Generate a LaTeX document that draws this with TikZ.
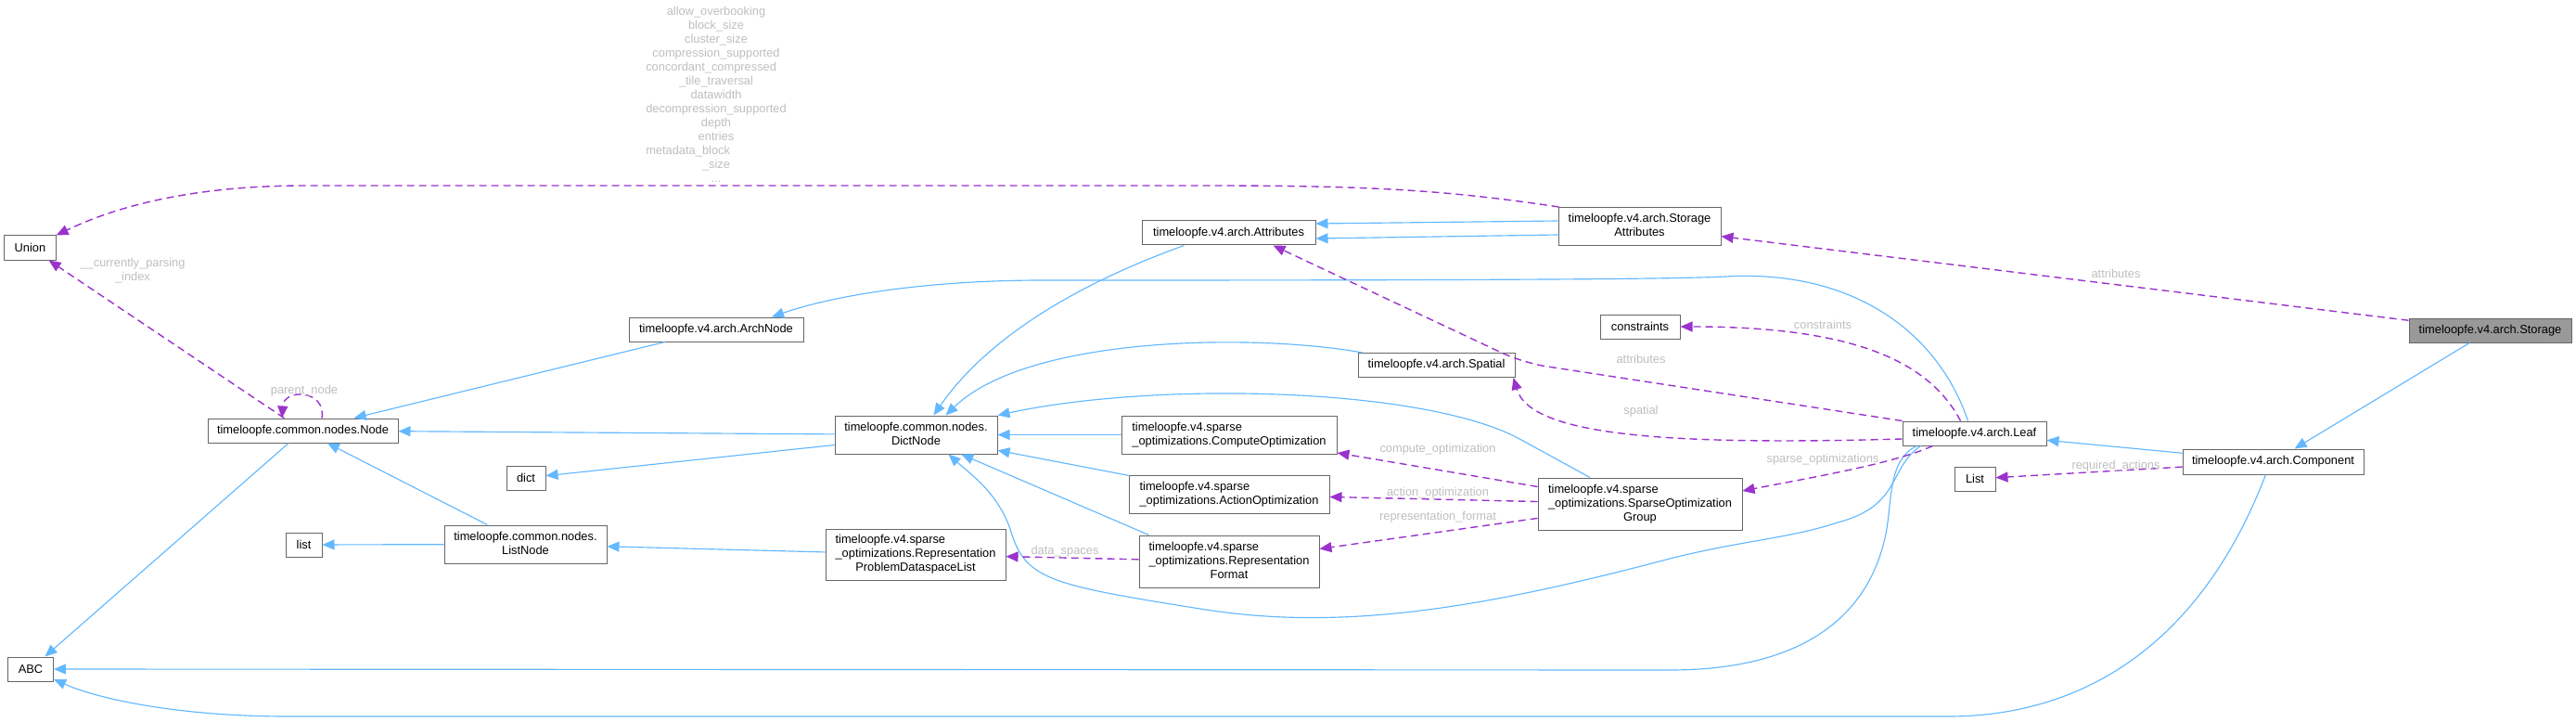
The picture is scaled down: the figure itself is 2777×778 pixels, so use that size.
\documentclass[tikz,border=0pt]{standalone}
\usepackage{fontspec}
\setmainfont{Liberation Sans}
\usetikzlibrary{arrows.meta}
\definecolor{inhblue}{HTML}{63B8FF}
\definecolor{deppurple}{HTML}{9A32CD}
\definecolor{boxgray}{HTML}{666666}
\definecolor{lblgray}{HTML}{BEBEBE}
\definecolor{selgray}{HTML}{999999}
\newcommand\mixl[2]{\begin{tabular}{@{}l@{}}#1\\\multicolumn{1}{@{}c@{}}{#2}\end{tabular}}
\newcommand\cenl[1]{\begin{tabular}{@{}c@{}}#1\end{tabular}}
\begin{document}
\begin{tikzpicture}[x=1pt,y=-1pt,font=\fontsize{12.85}{15}\selectfont,
  box/.style={draw=boxgray,line width=1pt,fill=white,inner sep=0pt},
  inh/.style={draw=inhblue,line width=1.15pt,-{Triangle[length=13pt,width=11pt]}},
  dep/.style={draw=deppurple,line width=1.4pt,dash pattern=on 8pt off 5pt,-{Triangle[length=13pt,width=11pt]}},
  lbl/.style={text=lblgray,inner sep=0pt}]
\useasboundingbox (0,0) rectangle (2777,778);

% nodes
\node[box,minimum width=56pt,minimum height=26pt] (union) at (32.5,267) {Union};
\node[box,minimum width=49pt,minimum height=26pt] (abc) at (33,721) {ABC};
\node[box,minimum width=205pt,minimum height=26pt] (cnode) at (326.5,464) {timeloopfe.common.nodes.Node};
\node[box,minimum width=188pt,minimum height=26pt] (archnode) at (772,355) {timeloopfe.v4.arch.ArchNode};
\node[box,minimum width=42pt,minimum height=26pt] (dict) at (567,515) {dict};
\node[box,minimum width=39pt,minimum height=26pt] (plist) at (327.5,587) {list};
\node[box,minimum width=175pt,minimum height=41pt] (listnode) at (566.5,586.5) {\mixl{timeloopfe.common.nodes.}{ListNode}};
\node[box,minimum width=175pt,minimum height=41pt] (dictnode) at (987.5,468.5) {\mixl{timeloopfe.common.nodes.}{DictNode}};
\node[box,minimum width=194pt,minimum height=55pt] (rpdl) at (987,597.5) {\mixl{timeloopfe.v4.sparse\\\_optimizations.Representation}{ProblemDataspaceList}};
\node[box,minimum width=187pt,minimum height=26pt] (attributes) at (1324.5,251) {timeloopfe.v4.arch.Attributes};
\node[box,minimum width=232pt,minimum height=41pt] (compopt) at (1325,468.5) {\mixl{timeloopfe.v4.sparse}{\_optimizations.ComputeOptimization}};
\node[box,minimum width=216pt,minimum height=41pt] (actopt) at (1325,533) {\mixl{timeloopfe.v4.sparse}{\_optimizations.ActionOptimization}};
\node[box,minimum width=194pt,minimum height=56pt] (repfmt) at (1325,605) {\mixl{timeloopfe.v4.sparse\\\_optimizations.Representation}{Format}};
\node[box,minimum width=169pt,minimum height=26pt] (spatial) at (1548.5,393.5) {timeloopfe.v4.arch.Spatial};
\node[box,minimum width=175pt,minimum height=41pt] (storattr) at (1767.5,244) {\cenl{timeloopfe.v4.arch.Storage\\Attributes}};
\node[box,minimum width=86pt,minimum height=26pt] (constraints) at (1768,352) {constraints};
\node[box,minimum width=220pt,minimum height=56pt] (sog) at (1768,543) {\mixl{timeloopfe.v4.sparse\\\_optimizations.SparseOptimization}{Group}};
\node[box,minimum width=155pt,minimum height=26pt] (leaf) at (2128.5,467) {timeloopfe.v4.arch.Leaf};
\node[box,minimum width=44pt,minimum height=26pt] (plist2) at (2129,516) {List};
\node[box,minimum width=195pt,minimum height=27pt] (component) at (2450.5,497.5) {timeloopfe.v4.arch.Component};
\node[box,fill=selgray,minimum width=175pt,minimum height=26pt] (storage) at (2684.5,356) {timeloopfe.v4.arch.Storage};

% edges
\draw[inh] (storage) -- (component);
\draw[dep] (storage) -- (storattr);
\draw[inh] (component) -- (leaf);
\draw[dep] (component) -- (plist2);
\draw[inh] ([xshift=-8pt]component.south) .. controls (2370,700) and (2240,772) .. (2100,772) -- (310,772) .. controls (200,772) and (110,755) .. (abc);
\draw[inh] ([xshift=-62pt]leaf.south) .. controls (2035,495) and (2040,540) .. (2033,575) .. controls (2016,659) and (1950,722) .. (1800,722) -- (abc);
\draw[inh] ([xshift=-58pt]leaf.south) .. controls (2035,505) and (2050,545) .. (1981,563) .. controls (1930,580) and (1880,582) .. (1800,602) .. controls (1600,655) and (1450,680) .. (1300,657) .. controls (1130,630) and (1105,625) .. (1089,570) .. controls (1075,530) and (1045,510) .. ([xshift=35pt]dictnode.south);
\draw[inh] ([xshift=-7pt]leaf.north) .. controls (2090,360) and (2000,290) .. (1860,298) .. controls (1800,301) and (1600,302) .. (1124,302) .. controls (1000,302) and (900,318) .. ([xshift=60pt]archnode.north);
\draw[dep,rounded corners=25pt] (leaf.north west) -- (1642,391) -- ([xshift=48pt]attributes.south);
\draw[dep] ([xshift=-15pt]leaf.north) .. controls (2080,390) and (2000,352) .. (constraints.east);
\draw[dep] ([yshift=-6pt]leaf.west) .. controls (1800,480) and (1650,470) .. ([xshift=-2pt]spatial.south east);
\draw[dep] ([xshift=-45pt]leaf.south) .. controls (2040,500) and (1950,515) .. ([yshift=14pt]sog.east);
\draw[inh] ([xshift=5pt]spatial.north west) .. controls (1360,360) and (1110,360) .. ([xshift=32pt]dictnode.north);
\draw[inh] ([xshift=-48pt]attributes.south) .. controls (1150,310) and (1060,370) .. ([xshift=19pt]dictnode.north);
\draw[inh] ([yshift=6pt]storattr.west) -- ([yshift=10pt]attributes.east);
\draw[inh] ([yshift=-9pt]storattr.west) -- ([yshift=-6pt]attributes.east);
\draw[dep] ([xshift=1pt]storattr.north west) .. controls (1560,205) and (1480,200) .. (1300,200) -- (330,200) .. controls (200,200) and (120,225) .. (union);
\draw[inh] ([xshift=-54pt]sog.north) -- (1640,474) .. controls (1540,418) and (1250,410) .. (dictnode.north east);
\draw[dep] (sog) -- (compopt);
\draw[dep] (sog) -- (actopt);
\draw[dep] (sog) -- (repfmt);
\draw[inh] (compopt) -- (dictnode);
\draw[inh] (actopt) -- (dictnode);
\draw[inh] ([xshift=11pt]repfmt.north west) -- (dictnode);
\draw[dep] (repfmt) -- (rpdl);
\draw[inh] (rpdl) -- (listnode);
\draw[inh] (listnode) -- (plist);
\draw[inh] (listnode) -- (cnode);
\draw[inh] (dictnode) -- (cnode);
\draw[inh] ([yshift=-11pt]dictnode.west) -- (dict);
\draw[inh] (archnode) -- (cnode);
\draw[inh] (cnode) -- (abc);
\draw[dep] (cnode) -- (union);
\draw[dep] ([xshift=20.5pt]cnode.north) .. controls (352,420) and (306,418) .. ([xshift=-22.5pt]cnode.north);

% labels
\node[lbl] (lattr2) at (2281,295) {attributes};
\node[lbl] (lreq) at (2281,502) {required\_actions};
\node[lbl] (lconstr) at (1965,350) {constraints};
\node[lbl] (lattr) at (1769,387) {attributes};
\node[lbl] (lspatial) at (1769,443) {spatial};
\node[lbl] (lsparse) at (1965,495) {sparse\_optimizations};
\node[lbl] (lcomp) at (1550,484) {compute\_optimization};
\node[lbl] (lact) at (1550,531) {action\_optimization};
\node[lbl] (lrep) at (1550,557) {representation\_format};
\node[lbl] (ldata) at (1148,594) {data\_spaces};
\node[lbl] (lparent) at (328,421) {parent\_node};
\node[lbl] (lcur) at (143,291.5) {\cenl{\_\_currently\_parsing\\\_index}};
\node[lbl] (lbig) at (772,104) {\cenl{allow\_overbooking\\block\_size\\cluster\_size\\compression\_supported\\\multicolumn{1}{@{}l@{}}{concordant\_compressed}\\\_tile\_traversal\\datawidth\\decompression\_supported\\depth\\entries\\\multicolumn{1}{@{}l@{}}{metadata\_block}\\\_size\\...}};
\end{tikzpicture}
\end{document}
